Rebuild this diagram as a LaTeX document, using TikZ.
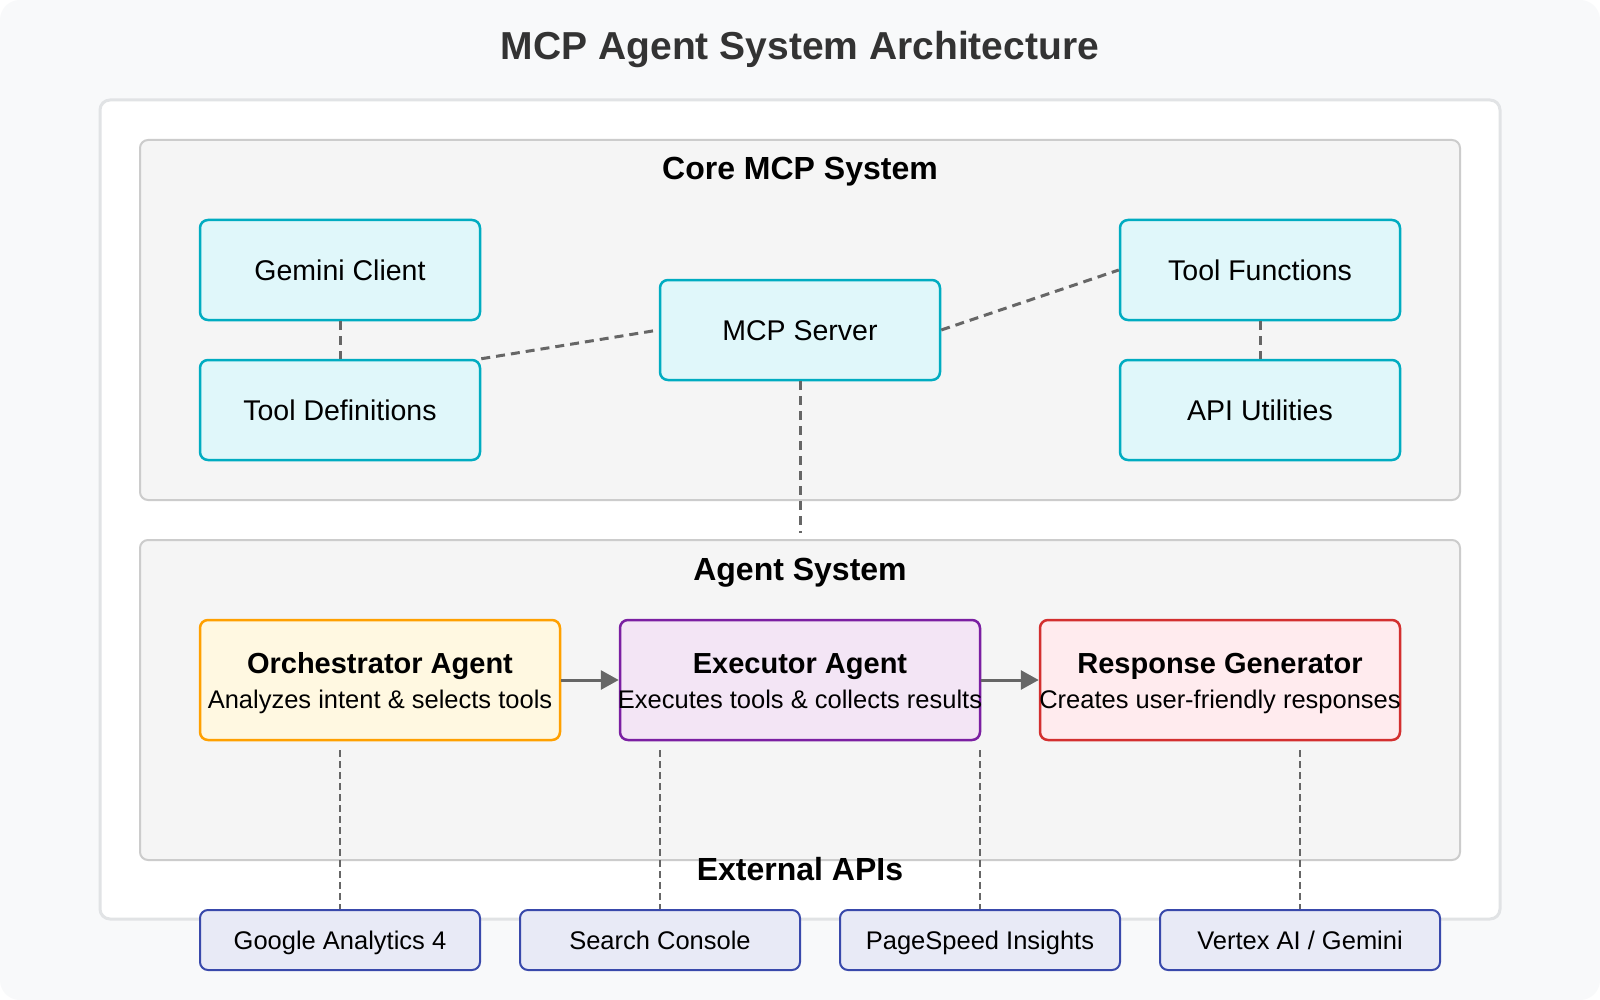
\documentclass[tikz,border=0pt]{standalone}
\usepackage{fontspec}
\setmainfont{Liberation Sans}
\usetikzlibrary{arrows.meta}
\definecolor{bgc}{HTML}{F8F9FA}
\definecolor{panelborder}{HTML}{E1E3E5}
\definecolor{secfill}{HTML}{F5F5F5}
\definecolor{secline}{HTML}{CCCCCC}
\definecolor{cyanfill}{HTML}{E0F7FA}
\definecolor{cyanline}{HTML}{00ACC1}
\definecolor{orfill}{HTML}{FFF8E1}
\definecolor{orline}{HTML}{FFA000}
\definecolor{pufill}{HTML}{F3E5F5}
\definecolor{puline}{HTML}{7B1FA2}
\definecolor{refill}{HTML}{FFEBEE}
\definecolor{reline}{HTML}{D32F2F}
\definecolor{apifill}{HTML}{E8EAF6}
\definecolor{apiline}{HTML}{3949AB}
\definecolor{linec}{HTML}{666666}
\definecolor{titlec}{HTML}{333333}
\begin{document}
\begin{tikzpicture}[x=1pt,y=-1pt,
  cbox/.style={rounded corners=8pt, minimum width=280pt, minimum height=100pt, inner sep=0pt,
    line width=2.5pt, fill=cyanfill, draw=cyanline,
    font=\fontsize{28.5}{34}\selectfont, text height=20.5pt, text depth=0pt},
  abox/.style={rounded corners=8pt, minimum width=360pt, minimum height=120pt, inner sep=0pt, line width=2.5pt},
  apibox/.style={rounded corners=8pt, minimum width=280pt, minimum height=60pt, inner sep=0pt,
    line width=2pt, fill=apifill, draw=apiline,
    font=\fontsize{25.5}{30}\selectfont, text height=18.3pt, text depth=0pt},
  atitle/.style={anchor=base, font=\fontsize{29}{35}\selectfont\bfseries, inner sep=0pt},
  asub/.style={anchor=base, font=\fontsize{25.5}{30}\selectfont, inner sep=0pt},
  sectitle/.style={anchor=base, font=\fontsize{32}{38}\selectfont\bfseries, inner sep=0pt},
  section/.style={rounded corners=8pt, fill=secfill, draw=secline, line width=2pt},
  dashcore/.style={draw=linec, line width=3pt, dash pattern=on 9pt off 6pt},
  dashthin/.style={draw=linec, line width=1.5pt, dash pattern=on 7pt off 4pt},
  arr/.style={draw=linec, line width=3pt, -{Triangle[length=18pt,width=19pt]}}
]
\useasboundingbox (0,0) rectangle (1600,1000);
\fill[white] (0,0) rectangle (1600,1000);
\fill[bgc, rounded corners=20pt] (0,0) rectangle (1600,1000);
% outer panel
\draw[fill=white, draw=panelborder, line width=3pt, rounded corners=10pt] (100,100) rectangle (1500,919);
% title
\node[anchor=base, font=\fontsize{39}{46}\selectfont\bfseries, text=titlec, inner sep=0pt] (title) at (800,60) {MCP Agent System Architecture};
% sections
\draw[section] (140,140) rectangle (1460,500);
\draw[section] (140,540) rectangle (1460,860);
\node[sectitle] (coret) at (800,180) {Core MCP System};
\node[sectitle] (agentt) at (800,580) {Agent System};
\node[sectitle] (extt) at (800,880) {External APIs};

% coordinates for free ends
\coordinate (mcpend) at (800,533);
\coordinate (e1) at (340,750);
\coordinate (e2) at (660,750);
\coordinate (e3) at (980,750);
\coordinate (e4) at (1300,750);

% core nodes
\node[cbox] (gem) at (340,270) {Gemini Client};
\node[cbox] (tdef) at (340,410) {Tool Definitions};
\node[cbox] (mcp) at (800,330) {MCP Server};
\node[cbox] (tfun) at (1260,270) {Tool Functions};
\node[cbox] (apiu) at (1260,410) {API Utilities};

\draw[dashcore] (gem.south) -- (tdef.north);
\draw[dashcore] (tdef.north east) -- (mcp.west);
\draw[dashcore] (mcp.east) -- (tfun.west);
\draw[dashcore] (tfun.south) -- (apiu.north);
\draw[dashcore] (mcp.south) -- (mcpend);

% agent nodes
\node[abox, fill=orfill, draw=orline] (orch) at (380,680) {};
\node[abox, fill=pufill, draw=puline] (exec) at (800,680) {};
\node[abox, fill=refill, draw=reline] (resp) at (1220,680) {};
\node[atitle] (orcht) at (380,673) {Orchestrator Agent};
\node[asub] (orchs) at (380,708) {Analyzes intent \& selects tools};
\node[atitle] (exect) at (800,673) {Executor Agent};
\node[asub] (execs) at (800,708) {Executes tools \& collects results};
\node[atitle] (respt) at (1220,673) {Response Generator};
\node[asub] (resps) at (1220,708) {Creates user-friendly responses};

\draw[arr] (orch.east) -- (exec.west);
\draw[arr] (exec.east) -- (resp.west);

% API nodes
\node[apibox] (ga) at (340,940) {Google Analytics 4};
\node[apibox] (sc) at (660,940) {Search Console};
\node[apibox] (ps) at (980,940) {PageSpeed Insights};
\node[apibox] (vx) at (1300,940) {Vertex AI / Gemini};

\draw[dashthin] (e1) -- (ga.north);
\draw[dashthin] (e2) -- (sc.north);
\draw[dashthin] (e3) -- (ps.north);
\draw[dashthin] (e4) -- (vx.north);
\end{tikzpicture}
\end{document}
